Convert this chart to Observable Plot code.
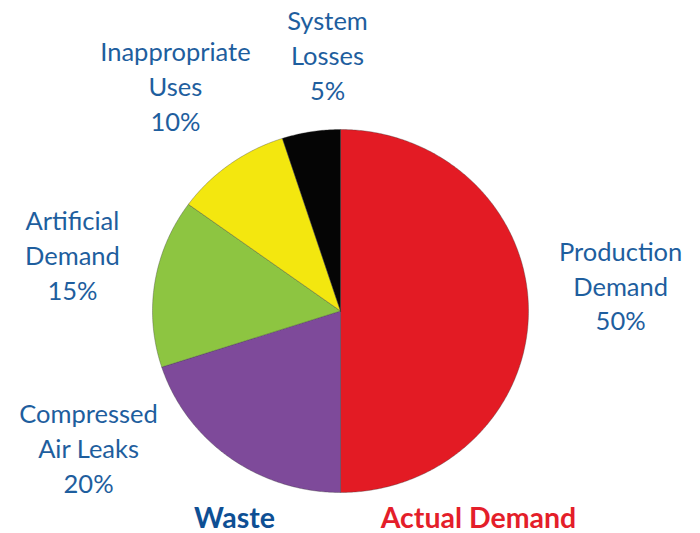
<!DOCTYPE html>
<html>
<head>
<meta charset="utf-8">
<script src="https://cdn.jsdelivr.net/npm/d3@7"></script>
<script src="https://cdn.jsdelivr.net/npm/@observablehq/plot@0.6"></script>
<style>
  html, body { margin: 0; padding: 0; background: #fff; }
  #chart svg { display: block; }
</style>
</head>
<body>
<div id="chart"></div>
<script>
// Data (clockwise from top)
const categories = ["Production Demand", "Compressed Air Leaks", "Artificial Demand", "Inappropriate Uses", "System Losses"];
const labelLines = ["Production\nDemand", "Compressed\nAir Leaks", "Artificial\nDemand", "Inappropriate\nUses", "System\nLosses"];
const shares = [50, 20, 15, 10, 5];
const groupLabels = ["Waste", "Actual Demand"];

// Styling / layout (not data)
const sliceColors = ["#E31B24", "#7E4A9A", "#8DC541", "#F3E70F", "#050505"];
const labelAt = [[1.49, 0.147], [-1.34, -0.746], [-1.426, 0.317], [-0.878, 1.248], [-0.069, 1.417]];
const groupAt = [[-0.564, -1.143], [0.734, -1.143]];
const groupColors = ["#0E4F94", "#E41E2A"];
const textBlue = "#1E5E9E";

const arcs = d3.pie().sort(null).value(d => d)(shares);
const slicePts = [];
arcs.forEach((a, i) => {
  const n = Math.max(4, Math.ceil((a.endAngle - a.startAngle) / 0.01));
  slicePts.push({name: categories[i], x: 0, y: 0});
  for (let k = 0; k <= n; k++) {
    const t = a.startAngle + (a.endAngle - a.startAngle) * k / n;
    slicePts.push({name: categories[i], x: Math.sin(t), y: Math.cos(t)});
  }
  slicePts.push({name: categories[i], x: 0, y: 0});
});

const labels = categories.map((c, i) => ({
  text: labelLines[i] + "\n" + shares[i] + "%",
  x: labelAt[i][0], y: labelAt[i][1]
}));
const groups = groupLabels.map((g, i) => ({text: g, x: groupAt[i][0], y: groupAt[i][1], c: groupColors[i]}));

const chart = Plot.plot({
  width: 700,
  height: 533,
  margin: 0,
  style: {background: "#fff", fontFamily: "Lato, 'Open Sans', sans-serif"},
  x: {domain: [-1, 1], range: [152, 528], axis: null},
  y: {domain: [-1, 1], range: [492, 129], axis: null},
  color: {type: "ordinal", domain: categories, range: sliceColors},
  marks: [
    Plot.line(slicePts, {x: "x", y: "y", z: "name", fill: "name", stroke: "#3a3a3a", strokeWidth: 0.7, strokeOpacity: 0.5, curve: "linear"}),
    Plot.text(labels, {x: "x", y: "y", text: "text", fill: textBlue, fontSize: 25.5, lineHeight: 1.37, textAnchor: "middle"}),
    Plot.text(groups, {x: "x", y: "y", text: "text", fill: "c", fontSize: 28.5, fontWeight: "bold", textAnchor: "middle"})
  ]
});
document.getElementById("chart").appendChild(chart);
</script>
</body>
</html>
